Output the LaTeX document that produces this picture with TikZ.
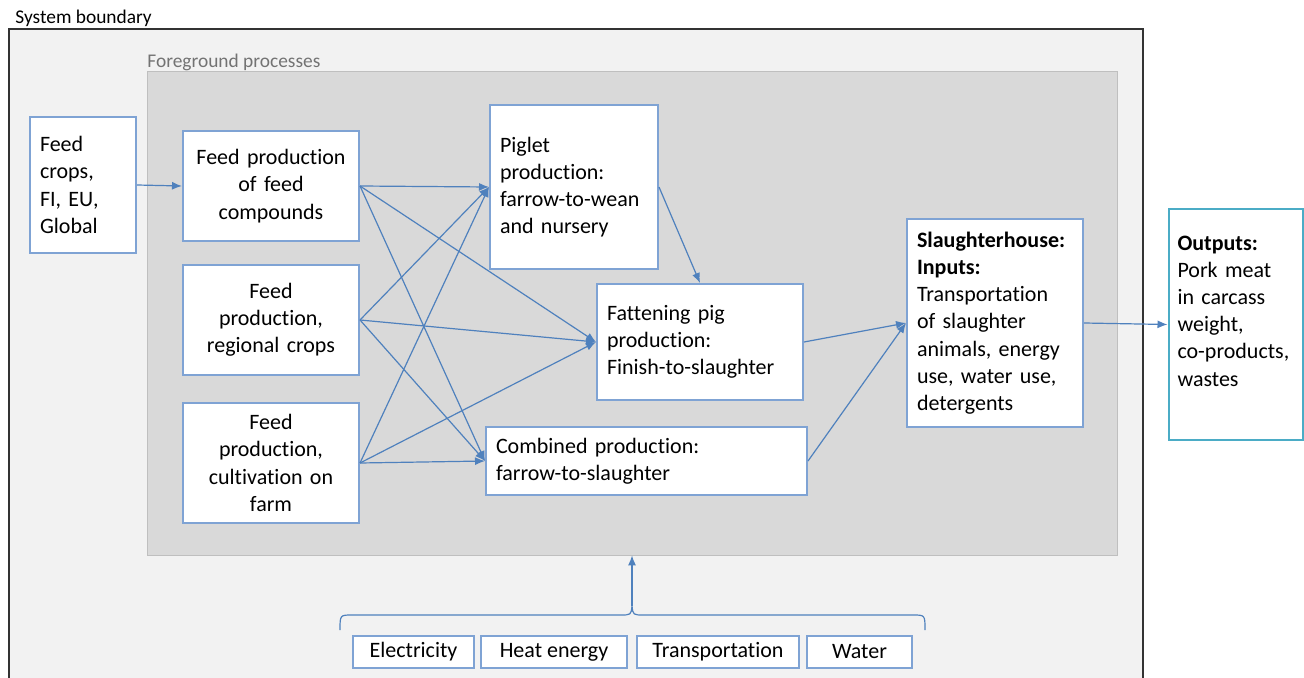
\documentclass[tikz,border=0pt]{standalone}
\usepackage{fontspec}
\setmainfont{Carlito}[RawFeature={-liga;-clig;-calt;-dlig}]
\usetikzlibrary{arrows.meta}
\definecolor{boxblue}{HTML}{7FA3D4}
\definecolor{lineblue}{HTML}{4F81BD}
\definecolor{outteal}{HTML}{4BACC6}
\definecolor{sysgray}{HTML}{F2F2F2}
\definecolor{fggray}{HTML}{D9D9D9}
\tikzset{
	proc/.style={draw=boxblue, fill=white, line width=1pt, inner xsep=5pt, inner ysep=3pt, font=\fontsize{11}{13.6}\selectfont},
	flow/.style={draw=lineblue, line width=0.6pt, -{Latex[length=5pt,width=4pt]}},
	util/.style={proc, font=\fontsize{11}{13}\selectfont, align=center, inner sep=0pt, minimum height=16pt}
}
\begin{document}
\begin{tikzpicture}[x=0.5pt,y=-0.5pt]
	\useasboundingbox (0,0) rectangle (1304,678);
	% system boundary
	\fill[sysgray] (9,29) rectangle (1143,680);
	\draw[line width=0.8pt, draw=black!80] (9,680) -- (9,29) -- (1143,29) -- (1143,680);
	\node[anchor=base west, inner sep=0pt, font=\fontsize{9.7}{11}\selectfont] (sysl) at (15,24) {System boundary};
	% foreground processes
	\node[draw=black!25, fill=fggray, minimum width=485pt, minimum height=242pt, inner sep=0pt] (fg) at (632,313) {};
	\node[anchor=base west, inner sep=0pt, text=black!55, font=\fontsize{9.7}{11}\selectfont] (fgl) at (147,68) {Foreground processes};

	\node[proc, text width=43pt, align=left, minimum height=68pt] (crops) at (83,185) {Feed\\crops,\\FI, EU,\\Global};
	\node[proc, text width=78pt, align=center, minimum height=55pt] (comp) at (271,186) {Feed production\\of feed\\compounds};
	\node[proc, text width=78pt, align=center, minimum height=55pt] (reg) at (271,320) {Feed\\production,\\regional crops};
	\node[proc, text width=78pt, align=center, minimum height=60pt] (farm) at (271,463) {Feed\\production,\\cultivation on\\farm};
	\node[proc, text width=74pt, align=left, minimum height=82pt] (pig) at (574,187) {Piglet\\production:\\farrow-to-wean\\and nursery};
	\node[proc, text width=93pt, align=left, minimum height=58pt] (fat) at (700,342) {Fattening pig\\production:\\Finish-to-slaughter};
	\node[proc, text width=150.5pt, align=left, minimum height=34pt] (comb) at (646.5,461) {Combined production:\\farrow-to-slaughter};
	\node[proc, text width=78pt, inner xsep=5pt, align=left, minimum height=104pt] (slh) at (995,323) {\textbf{Slaughterhouse:}\\\textbf{Inputs:}\\Transportation\\of slaughter\\animals, energy\\use, water use,\\detergents};
	\node[proc, draw=outteal, text width=58pt, inner xsep=4.5pt, align=left, minimum height=115.5pt] (out) at (1235.5,324.5) {\textbf{Outputs:}\\Pork meat\\in carcass\\weight,\\co-products,\\wastes\\\mbox{}};

	\node[util, minimum width=60.5pt] (elec) at (413.5,652) {Electricity};
	\node[util, minimum width=73pt] (heat) at (554,652) {Heat energy};
	\node[util, minimum width=81pt] (trans) at (718,652) {Transportation};
	\node[util, minimum width=52.5pt] (water) at (859.5,652) {Water};

	% flows
	\draw[flow] (crops.east) -- (comp.west);
	\foreach \src in {comp,reg,farm}
		\foreach \dst in {pig,fat,comb}
			\draw[flow] (\src.east) -- (\dst.west);
	\draw[flow] (pig.east) -- (fat.north);
	\draw[flow] (fat.east) -- (slh.west);
	\draw[flow] (comb.east) -- (slh.west);
	\draw[flow] (slh.east) -- (out.west);

	% brace of the utilities
	\coordinate (bt) at (632,606);
	\draw[lineblue, line width=0.6pt] (340,630) .. controls (340,615) .. (352,615) -- (620,615) .. controls (631,615) .. (bt) .. controls (633,615) .. (644,615) -- (913,615) .. controls (925,615) .. (925,630);
	\draw[flow] (bt) -- (bt |- fg.south);
\end{tikzpicture}
\end{document}
